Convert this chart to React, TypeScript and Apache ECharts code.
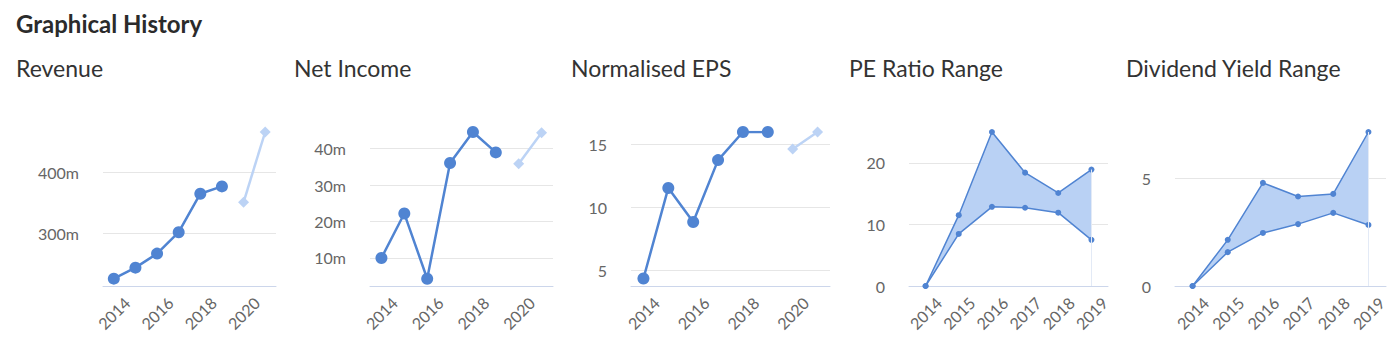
import React, { useEffect, useRef } from "react";
import * as echarts from "echarts";

const actualYears = ["2014", "2015", "2016", "2017", "2018", "2019"];
const forecastYears = ["2020", "2021"];
const titles = ["Revenue", "Net Income", "Normalised EPS", "PE Ratio Range", "Dividend Yield Range"];

const revenueActual = [226, 244, 267, 302, 365, 377];
const revenueForecast = [351, 466];
const netIncomeActual = [10.0, 22.2, 4.3, 36.1, 44.6, 39.0];
const netIncomeForecast = [35.9, 44.4];
const epsActual = [4.37, 11.53, 8.84, 13.73, 15.95, 15.95];
const epsForecast = [14.6, 15.95];
const peHigh = [0, 11.5, 25.0, 18.4, 15.1, 18.9];
const peLow = [0, 8.45, 12.85, 12.7, 11.9, 7.5];
const dyHigh = [0, 2.14, 4.78, 4.15, 4.27, 7.14];
const dyLow = [0, 1.57, 2.46, 2.87, 3.39, 2.83];

const yMin = [214, 2.3, 3.78, 0, 0];
const yMax = [466, 44.6, 15.95, 25, 7.14];
const yStep = [100, 10, 5, 10, 5];
const ySuffix = ["m", "m", "", "", ""];

const W = 1392;
const H = 356;
const panelX = [16, 294, 571, 849, 1126];
const gridLeft = [103, 370, 631, 909, 1175];
const gridRightEdge = [276, 553, 830, 1108, 1386];
const gridTop = 132;
const gridBottomY = 286;

const FONT = "Lato, 'Noto Sans', sans-serif";
const BLUE = "#5084d2";
const LIGHT = "#bcd3f5";
const FILL = "#b9d1f4";

function buildOption() {
  const grid: any[] = [];
  const xAxis: any[] = [];
  const yAxis: any[] = [];
  const series: any[] = [];
  const graphic: any[] = [];

  graphic.push({
    type: "text",
    x: 16,
    y: 23,
    style: {
      text: "Graphical History",
      font: `bold 24px ${FONT}`,
      fill: "#2b2b2b",
      verticalAlign: "middle",
    },
  });

  for (let i = 0; i < 5; i++) {
    graphic.push({
      type: "text",
      x: panelX[i],
      y: 68,
      style: {
        text: titles[i],
        font: `23px ${FONT}`,
        fill: "#333333",
        verticalAlign: "middle",
      },
    });
    grid.push({
      left: gridLeft[i],
      right: W - gridRightEdge[i],
      top: gridTop,
      bottom: H - gridBottomY,
      containLabel: false,
    });
    const isRange = i >= 3;
    xAxis.push({
      type: "category",
      gridIndex: i,
      boundaryGap: true,
      data: isRange ? actualYears : [...actualYears, ...forecastYears],
      axisLine: { show: true, lineStyle: { color: "#ccd6eb", width: 1 } },
      axisTick: { show: false },
      axisLabel: {
        interval: isRange ? 0 : 1,
        rotate: 45,
        align: "center",
        verticalAlign: "middle",
        margin: 27,
        color: "#666666",
        fontSize: 16,
        fontFamily: FONT,
      },
    });
    yAxis.push({
      type: "value",
      gridIndex: i,
      min: yMin[i],
      max: yMax[i],
      minInterval: yStep[i],
      maxInterval: yStep[i],
      splitNumber: 2,
      axisLine: { show: false },
      axisTick: { show: false },
      splitLine: {
        show: true,
        showMinLine: false,
        showMaxLine: false,
        lineStyle: { color: "#e6e6e6", width: 1 },
      },
      axisLabel: {
        showMinLabel: isRange,
        showMaxLabel: false,
        margin: 24,
        color: "#666666",
        fontSize: 16,
        fontFamily: FONT,
        formatter: (v: number) => `${v}${ySuffix[i]}`,
      },
    });
  }

  const lineData = [
    [revenueActual, revenueForecast],
    [netIncomeActual, netIncomeForecast],
    [epsActual, epsForecast],
  ];
  lineData.forEach(([act, fc], i) => {
    series.push({
      type: "line",
      xAxisIndex: i,
      yAxisIndex: i,
      data: act.map((v, k) => [actualYears[k], v]),
      symbol: "circle",
      symbolSize: 12,
      itemStyle: { color: BLUE },
      lineStyle: { color: BLUE, width: 2.5 },
      z: 3,
    });
    series.push({
      type: "line",
      xAxisIndex: i,
      yAxisIndex: i,
      data: fc.map((v, k) => [forecastYears[k], v]),
      symbol: "diamond",
      symbolSize: 11,
      itemStyle: { color: LIGHT },
      lineStyle: { color: LIGHT, width: 2.5 },
      z: 3,
    });
  });

  const ranges = [
    [peLow, peHigh],
    [dyLow, dyHigh],
  ];
  ranges.forEach(([low, high], r) => {
    const i = 3 + r;
    const stack = `band${r}`;
    series.push({
      type: "line",
      xAxisIndex: i,
      yAxisIndex: i,
      stack,
      data: low,
      symbol: "circle",
      symbolSize: 6,
      itemStyle: { color: BLUE },
      lineStyle: { color: BLUE, width: 1.5 },
      z: 4,
      markLine: {
        silent: true,
        symbol: "none",
        label: { show: false },
        lineStyle: { color: "#e3eaf6", width: 1, type: "solid" },
        data: [
          [
            { coord: [actualYears[5], 0] },
            { coord: [actualYears[5], high[5]] },
          ],
        ],
      },
    });
    series.push({
      type: "line",
      xAxisIndex: i,
      yAxisIndex: i,
      stack,
      data: high.map((h, k) => +(h - low[k]).toFixed(4)),
      symbol: "circle",
      symbolSize: 6,
      itemStyle: { color: BLUE },
      lineStyle: { color: BLUE, width: 1.5 },
      areaStyle: { color: FILL, opacity: 1 },
      z: 3,
    });
  });

  return {
    animation: false,
    backgroundColor: "#ffffff",
    grid,
    xAxis,
    yAxis,
    series,
    graphic,
  };
}

export default function App() {
  const ref = useRef<HTMLDivElement>(null);
  useEffect(() => {
    document.body.style.margin = "0";
    if (!ref.current) return;
    const chart = echarts.init(ref.current, undefined, { renderer: "svg" });
    chart.setOption(buildOption() as any);
    return () => chart.dispose();
  }, []);
  return <div ref={ref} style={{ width: W, height: H }} />;
}
